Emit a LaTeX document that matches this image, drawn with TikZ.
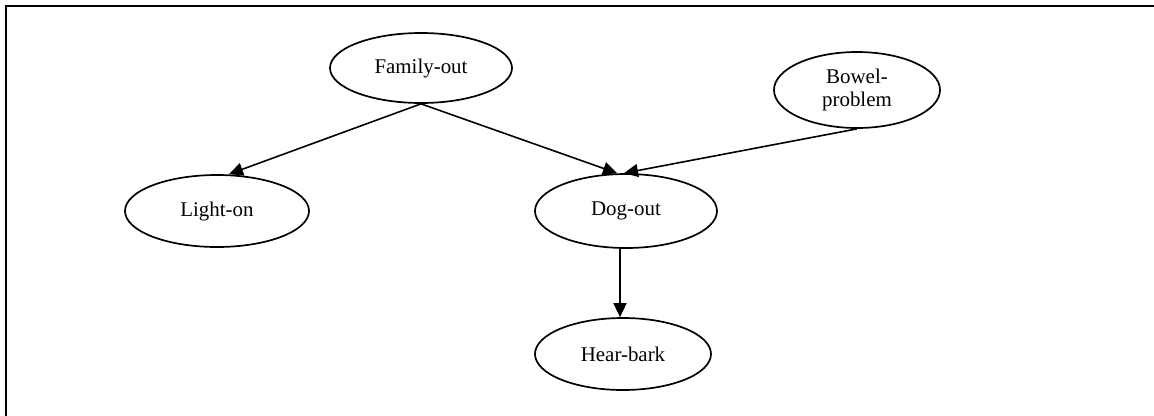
\documentclass[tikz,border=0pt]{standalone}
\usepackage{fontspec}
\setmainfont{Liberation Serif}
\usetikzlibrary{shapes.geometric,arrows.meta}
\begin{document}
\begin{tikzpicture}[x=1bp,y=-1bp,
  var/.style={draw, ellipse, line width=1.7bp, inner sep=0pt,
    font=\fontsize{21}{23.5}\selectfont, align=center},
  edge/.style={line width=1.6bp, -{Triangle[length=14bp,width=13bp]}}]
  \useasboundingbox (0,0) rectangle (1154,415);
  % page frame (only top and left edges fall inside)
  \draw[line width=2.2bp] (6,430) -- (6,6) -- (1170,6);

  \node[var, minimum width=182bp, minimum height=70bp] (fam) at (421,68) {Family-out};
  \node[var, minimum width=166bp, minimum height=76bp] (bowel) at (857,90) {Bowel-\\problem};
  \node[var, minimum width=184bp, minimum height=72bp] (light) at (217,211) {Light-on};
  \node[var, minimum width=182bp, minimum height=74bp] (dog) at (626,211) {Dog-out};
  \node[var, minimum width=176bp, minimum height=72bp] (bark) at (623,354) {Hear-bark};

  \draw[edge] (fam.south) -- ([xshift=12bp]light.north);
  \draw[edge] (fam.south) -- ([xshift=-9bp]dog.north);
  \draw[edge] (bowel.south) -- ([xshift=-2bp]dog.north);
  \draw[edge] ([xshift=-6bp]dog.south) -- ([xshift=-3bp]bark.north);
\end{tikzpicture}
\end{document}
